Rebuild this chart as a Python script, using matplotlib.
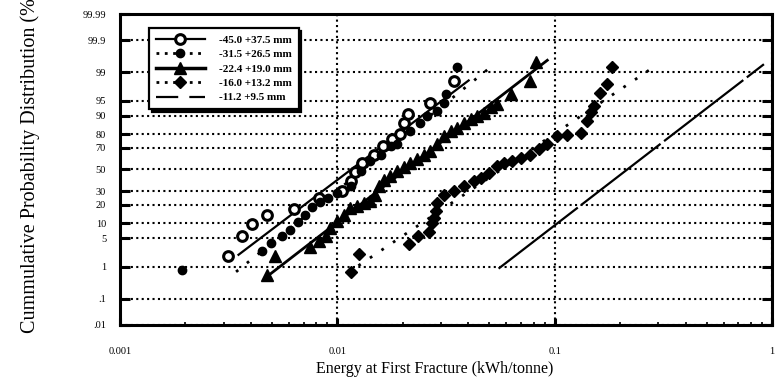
import numpy as np
import matplotlib.pyplot as plt
from matplotlib.lines import Line2D
from matplotlib.ticker import FixedLocator, NullFormatter, LogLocator, NullLocator
from statistics import NormalDist

plt.rcParams['font.family'] = ['Liberation Serif', 'DejaVu Serif']

# measured energies (kWh/tonne) and cumulative probability (%) per size class
e_45 = [0.00314, 0.00364, 0.00405, 0.00474, 0.00634, 0.00826, 0.0105, 0.0115,
        0.0120, 0.0130, 0.0147, 0.0163, 0.0179, 0.0195, 0.0202, 0.0211, 0.0268, 0.0344]
p_45 = [1.9, 5.7, 9.8, 13.6, 17.5, 25.0, 30.1, 39.0,
        48.0, 56.4, 64.0, 71.2, 76.4, 80.0, 86.9, 90.6, 94.5, 98.3]

e_31 = [0.00192, 0.00450, 0.00494, 0.00556, 0.00607, 0.00661, 0.00712, 0.00767,
        0.00834, 0.0091, 0.00997, 0.0115, 0.0128, 0.0142, 0.0158, 0.0176, 0.0188,
        0.0217, 0.0241, 0.0259, 0.0288, 0.0309, 0.0315, 0.0356]
p_31 = [0.8, 2.5, 3.9, 5.5, 7.5, 10.6, 14.0, 18.7,
        21.5, 25.0, 28.8, 34.5, 48.4, 57.9, 64.0, 71.2, 73.2,
        82.1, 86.9, 90.0, 91.9, 94.5, 96.4, 99.3]

e_22 = [0.00474, 0.00518, 0.00751, 0.00827, 0.00890, 0.00929, 0.00997, 0.01069,
        0.01148, 0.01233, 0.0132, 0.0142, 0.01496, 0.0155, 0.01634, 0.01755, 0.0188,
        0.0202, 0.0217, 0.0233, 0.0250, 0.0268, 0.0288, 0.0309, 0.0332, 0.0356,
        0.0382, 0.0410, 0.0440, 0.0472, 0.0507, 0.0544, 0.0627, 0.0774, 0.0817]
p_22 = [0.57, 1.9, 3.2, 4.3, 5.7, 8.1, 10.7, 14.0,
        17.9, 18.9, 21.2, 22.4, 27.4, 34.5, 40.5, 43.6, 48.4,
        52.2, 56.4, 59.5, 64.0, 67.0, 72.6, 78.8, 82.1, 84.1,
        86.9, 88.5, 90.0, 91.3, 93.1, 94.0, 96.4, 98.3, 99.5]

e_16 = [0.01156, 0.01253, 0.0213, 0.0234, 0.0264, 0.0273, 0.0278, 0.0283,
        0.0288, 0.0309, 0.0344, 0.0382, 0.0425, 0.0456, 0.0498, 0.0544, 0.0583,
        0.0638, 0.0697, 0.0774, 0.0847, 0.0925, 0.1028, 0.114, 0.132, 0.141,
        0.1466, 0.151, 0.162, 0.174, 0.184]
p_16 = [0.73, 2.2, 3.7, 5.5, 6.9, 10.0, 12.3, 15.9,
        21.2, 27.4, 30.1, 34.5, 39.0, 42.0, 46.8, 53.0, 56.4,
        57.9, 61.0, 64.0, 68.4, 72.6, 78.8, 79.5, 81.0, 87.7,
        91.4, 93.6, 96.7, 97.9, 99.3]

# fitted log-normal lines (end points)
fit_e = {
    '45': [0.00351, 0.0402],
    '31': [0.00342, 0.0507],
    '22': [0.00474, 0.0925],
    '16': [0.0125, 0.2985],
    '11': [0.0552, 0.918],
}
fit_p = {
    '45': [2.07, 98.34],
    '31': [0.72, 99.28],
    '22': [0.52, 99.55],
    '16': [1.07, 99.41],
    '11': [0.89, 99.41],
}

labels = ['-45.0 +37.5 mm', '-31.5 +26.5 mm', '-22.4 +19.0 mm',
          '-16.0 +13.2 mm', '-11.2 +9.5 mm']

y_ticks = [0.01, 0.1, 1, 5, 10, 20, 30, 50, 70, 80, 90, 95, 99, 99.9, 99.99]
y_ticklabels = ['.01', '.1', '1', '5', '10', '20', '30', '50', '70', '80',
                '90', '95', '99', '99.9', '99.99']
x_ticks = [0.001, 0.01, 0.1, 1]
x_ticklabels = ['0.001', '0.01', '0.1', '1']

# normal probability scale for the y axis
_nd = NormalDist()
_ppf = np.vectorize(_nd.inv_cdf, otypes=[float])
_cdf = np.vectorize(_nd.cdf, otypes=[float])


def prob_forward(p):
    p = np.clip(np.asarray(p, dtype=float) / 100.0, 1e-9, 1 - 1e-9)
    return _ppf(p)


def prob_inverse(z):
    return _cdf(np.asarray(z, dtype=float)) * 100.0


fig, ax = plt.subplots(figsize=(7.81, 3.83), dpi=100)
fig.subplots_adjust(left=120 / 781, right=772 / 781, bottom=1 - 325 / 383, top=1 - 14 / 383)
ax.set_xscale('log')
ax.set_yscale('function', functions=(prob_forward, prob_inverse))

dot = (0, (1, 4))
grid_ls = (0, (1, 1.6))

# data points
ax.plot(e_45, p_45, ls='none', marker='o', ms=7, mfc='white', mec='black', mew=2.2, zorder=4)
ax.plot(e_31, p_31, ls='none', marker='o', ms=6, color='black', zorder=4)
ax.plot(e_22, p_22, ls='none', marker='^', ms=8.5, color='black', zorder=4)
ax.plot(e_16, p_16, ls='none', marker='D', ms=6.5, color='black', zorder=4)

# fitted lines
ax.plot(fit_e['45'], fit_p['45'], color='black', lw=1.6, zorder=3)
ax.plot(fit_e['31'], fit_p['31'], color='black', lw=2, ls=dot, zorder=3)
ax.plot(fit_e['22'], fit_p['22'], color='black', lw=2, zorder=3)
ax.plot(fit_e['16'], fit_p['16'], color='black', lw=2, ls=dot, zorder=3)
ax.plot(fit_e['11'], fit_p['11'], color='black', lw=1.6, ls=(0, (45, 2)), zorder=3)

ax.set_xlim(0.001, 1)
ax.set_ylim(0.01, 99.99)

ax.xaxis.set_major_locator(FixedLocator(x_ticks))
ax.set_xticklabels(x_ticklabels)
ax.xaxis.set_minor_locator(LogLocator(base=10, subs=np.arange(2, 10)))
ax.xaxis.set_minor_formatter(NullFormatter())
ax.yaxis.set_major_locator(FixedLocator(y_ticks))
ax.set_yticklabels(y_ticklabels)
ax.yaxis.set_minor_locator(NullLocator())

ax.grid(True, which='major', color='black', lw=1.5, ls=grid_ls)
ax.set_axisbelow(True)

ax.tick_params(axis='y', which='major', direction='in', length=7, width=2.2,
               left=True, right=True, labelsize=7.5, pad=10)
ax.tick_params(axis='x', which='major', direction='in', length=5, width=2.2,
               labelsize=7.5, pad=16)
ax.tick_params(axis='x', which='minor', direction='in', length=2, width=1.2)
for s in ax.spines.values():
    s.set_linewidth(2.2)

ax.set_xlabel('Energy at First Fracture (kWh/tonne)', fontsize=11.5)
ax.xaxis.set_label_coords(0.482, -0.115)
fig.text(30 / 781, 1 - 333 / 383, 'Cummulative Probability Distribution (%)',
         rotation=90, ha='center', va='bottom', fontsize=14.5)

handles = [
    Line2D([], [], color='black', lw=1.6, marker='o', ms=7, mfc='white', mec='black', mew=2.2),
    Line2D([], [], color='black', lw=2, ls=(0, (1, 2)), marker='o', ms=6),
    Line2D([], [], color='black', lw=2.5, marker='^', ms=8),
    Line2D([], [], color='black', lw=2, ls=(0, (1, 2)), marker='D', ms=6),
    Line2D([], [], color='black', lw=1.6, ls=(0, (10, 5))),
]
leg = ax.legend(handles, labels, loc='upper left', bbox_to_anchor=(0.036, 0.972),
                prop={'weight': 'bold', 'size': 8}, handlelength=4.4, handletextpad=1.3,
                labelspacing=0.42, borderpad=0.6, fancybox=False, framealpha=1,
                edgecolor='black', shadow={'color': 'black', 'alpha': 1})
leg.get_frame().set_linewidth(1.6)
leg.set_zorder(6)

fig.savefig('out.png', dpi=100)
